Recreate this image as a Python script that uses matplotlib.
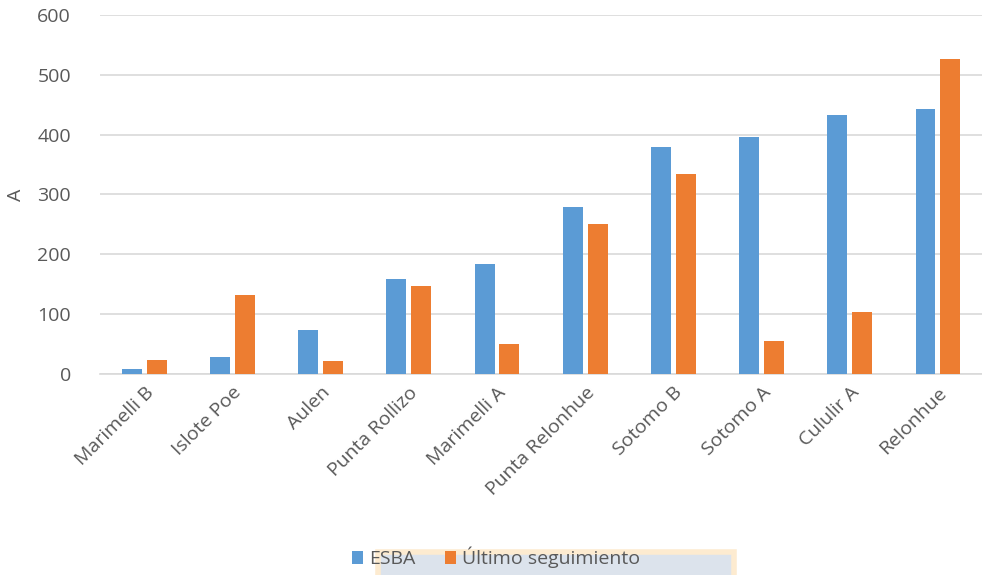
import matplotlib.pyplot as plt
import matplotlib.patches as mpatches
import numpy as np

plt.rcParams['font.family'] = ['Open Sans', 'DejaVu Sans']

sitios = ["Marimelli B", "Islote Poe", "Aulen", "Punta Rollizo", "Marimelli A",
          "Punta Relonhue", "Sotomo B", "Sotomo A", "Cululir A", "Relonhue"]
esba = [8, 28, 73, 159, 184, 279, 379, 396, 433, 442]
ultimo = [23, 132, 22, 147, 50, 250, 334, 55, 103, 526]

azul = "#5b9bd5"
naranja = "#ed7d31"
gris = "#595959"
fs = 14

fig = plt.figure(figsize=(9.82, 5.75), dpi=100)
ax = fig.add_axes([0.102, 0.35, 0.898, 0.624])

x = np.arange(len(sitios))
w = 0.226
ax.bar(x - 0.141, esba, w, color=azul, label="ESBA", zorder=3)
ax.bar(x + 0.141, ultimo, w, color=naranja, label="Último seguimiento", zorder=3)

ax.set_xlim(-0.5, len(sitios) - 0.5)
ax.set_ylim(0, 600)
ax.set_yticks(range(0, 601, 100))
ax.yaxis.grid(True, color="#d9d9d9", linewidth=1.2, zorder=0)
for s in ["top", "right", "left"]:
    ax.spines[s].set_visible(False)
ax.spines["bottom"].set_color("#d9d9d9")
ax.spines["bottom"].set_linewidth(1.2)
ax.tick_params(axis="both", length=0, colors=gris, labelsize=fs)
ax.tick_params(axis="y", pad=21)
ax.set_xticks(x)
ax.set_xticklabels(sitios, rotation=45, ha="right", rotation_mode="anchor")
ax.tick_params(axis="x", pad=7)
ax.set_ylabel("A", color=gris, fontsize=fs, labelpad=9)

# marco tenue bajo la leyenda
fig.patches.append(mpatches.Rectangle((378 / 982, -0.02), 356 / 982, 0.06,
                                      transform=fig.transFigure, facecolor="#dce3ec",
                                      edgecolor="#fdebd0", linewidth=4, zorder=0))

leg = fig.legend(loc="center", bbox_to_anchor=(0.505, 0.03), ncol=2, frameon=False,
                 fontsize=fs, handlelength=0.6, handleheight=0.6,
                 handletextpad=0.3, columnspacing=1.5)
for t in leg.get_texts():
    t.set_color(gris)

plt.savefig("out.png", dpi=100)
